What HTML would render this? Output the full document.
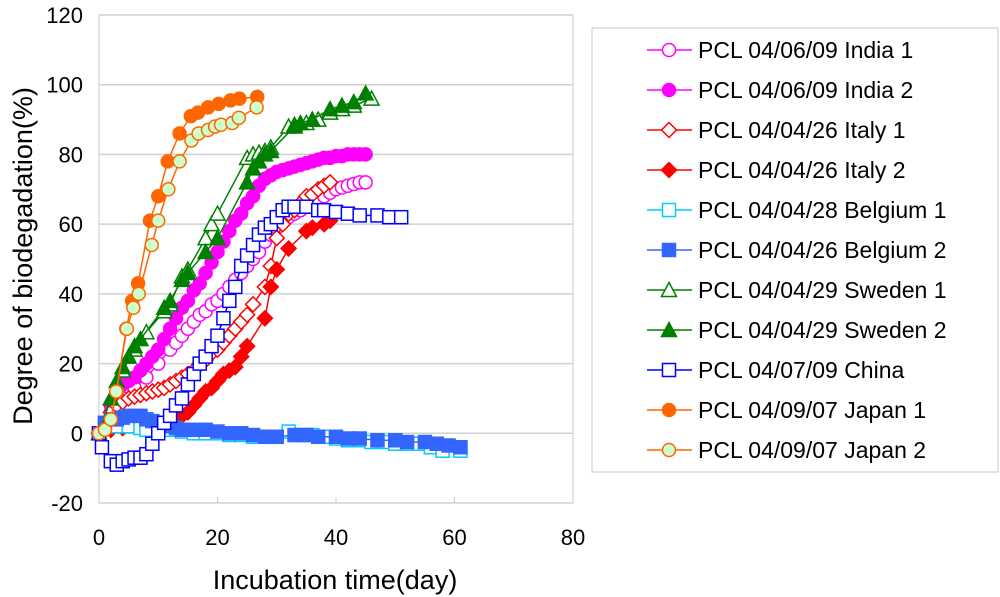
<!DOCTYPE html>
<html><head><meta charset="utf-8"><style>
body{margin:0;background:#fff;}
svg{display:block;font-family:"Liberation Sans",Arial,sans-serif;}
</style></head><body>
<svg id="chart" width="1000" height="597" viewBox="0 0 1000 597" xmlns="http://www.w3.org/2000/svg">
<g id="grid"></g>
<g id="axes"></g>
<g id="series"></g>
<g id="legend"></g>
<text x="0" y="0" transform="translate(32,256) rotate(-90)" text-anchor="middle" font-size="27">Degree of biodegadation(%)</text>
<text x="335" y="589" text-anchor="middle" font-size="27">Incubation time(day)</text>
</svg>
<script>
const xTicks=[0,20,40,60,80];
const yTicks=[-20,0,20,40,60,80,100,120];
const seriesNames=["PCL 04/06/09 India 1","PCL 04/06/09 India 2","PCL 04/04/26 Italy 1","PCL 04/04/26 Italy 2","PCL 04/04/28 Belgium 1","PCL 04/04/26 Belgium 2","PCL 04/04/29 Sweden 1","PCL 04/04/29 Sweden 2","PCL 04/07/09 China","PCL 04/09/07 Japan 1","PCL 04/09/07 Japan 2"];
const india1=[[0,0],[2,6],[4,10],[6,13],[8,16],[10,20],[12,24],[13,26],[14,28],[15,30],[16,32],[17,34],[18,35],[19,37],[20,38],[21,40],[22,42],[23,44],[24,46],[25,48],[26,50],[27,52],[28,55],[29,57],[30,59],[31,61],[32,62],[33,63],[34,64],[35,65],[36,66],[37,67],[38,68],[39,69],[40,70],[41,70.5],[42,71],[43,71.5],[44,72],[45,72]];
const india2=[[0,0],[1,3],[2,8],[3,11],[4,14],[5,15],[6,16],[7,18],[8,20],[9,22],[10,24],[11,27],[12,30],[13,33],[14,36],[15,38],[16,41],[17,43],[18,46],[19,49],[20,52],[21,55],[22,58],[23,61],[24,63],[25,66],[26,68],[27,71],[28,73],[29,74],[30,75],[31,75.5],[32,76],[33,76.5],[34,77],[35,77.5],[36,78],[37,78.5],[38,79],[39,79],[40,79.5],[41,79.5],[42,80],[43,80],[44,80],[45,80]];
const italy1=[[0,0],[2,6],[3,8],[4,9],[5,10],[6,10.5],[7,11],[8,11.5],[9,12],[10,12.5],[11,13],[12,14],[13,15],[14,16],[15,17],[16,18],[17,20],[18,21],[19,23],[20,24],[21,26],[22,28],[23,30],[24,32],[25,34],[26,37],[28,42],[29,48],[30,56],[31,60],[32,63],[33,64],[34,66],[35,68],[36,68.5],[37,70],[38,71],[39,72]];
const italy2=[[0,0],[2,1],[4,1.5],[6,2],[8,2.5],[10,3],[12,4],[14,5],[15,6],[16,8],[17,10],[18,12],[19,13],[20,15],[21,17],[22,18],[23,19],[24,22],[25,25],[28,33],[29,42],[30,47],[32,53],[35,58],[36,59],[38,60],[39,61]];
const belgium1=[[0,0],[1,2],[3,2],[5,2],[7,1.5],[8,1],[10,1],[12,1],[14,0.5],[16,0],[18,0],[20,0],[22,-0.5],[24,-0.5],[26,-1],[28,-1],[30,-1],[32,0.5],[34,-0.5],[36,-0.5],[38,-1],[40,-1.5],[42,-2],[44,-2],[46,-2.5],[48,-2.5],[50,-3],[52,-3],[54,-3],[56,-4],[58,-5],[61,-5]];
const belgium2=[[0,0],[1,3],[2,4],[3,4],[4,4.5],[5,5],[6,5],[7,5],[8,4],[9,3.5],[10,3],[11,2.5],[12,2],[13,1.5],[14,1],[16,1],[18,1],[20,0.5],[22,0],[24,0],[26,-0.5],[28,-1],[30,-1],[33,-0.5],[35,-0.5],[37,-1],[40,-1],[42,-1.5],[44,-1.5],[47,-2],[50,-2],[52,-2.5],[55,-2.5],[57,-3],[59,-3.5],[61,-4]];
const sweden1=[[0,0],[2,10],[4,18],[6,24],[8,29],[11,35],[12,37],[14,45],[15,47],[18,56],[19,60],[20,63],[25,79],[26,80],[27,80.5],[28,81],[29,82],[32,88],[33,88.5],[35,89],[37,90],[39,92],[41,93],[43,94],[46,96]];
const sweden2=[[0,0],[2,10],[3,15],[4,19],[5,22],[6,25],[7,27],[11,36],[12,38],[14,44],[15,46],[18,52],[20,56],[25,72],[26,76],[27,78],[28,80],[29,81],[33,88],[34,89],[36,90],[39,93],[41,94],[43,95],[45,97.5]];
const china=[[0,0],[0.5,-4],[2,-8],[3,-9],[4,-8],[5,-7.5],[6,-7],[7,-7],[8,-6],[9,-3],[10,0],[11,3],[12,5],[13,8],[14,10],[15,14],[16,17],[17,20],[18,22],[19,25],[20,28],[21,33],[22,38],[23,42],[24,48],[25,51],[26,54],[27,57],[28,59],[29,60],[30,62],[31,64],[32,65],[33,65],[35,65],[37,64],[38,64],[40,63.5],[42,63],[44,62.5],[47,62.5],[49,62],[51,62]];
const japan1=[[0,0],[1,1],[2,4],[3,12],[4.6,30],[5.6,38],[6.6,43],[8.6,61],[10,68],[11.6,78],[13.6,86],[15.5,91],[16.7,92],[18.4,93.5],[20.2,94.5],[22.2,95.5],[23.7,96],[26.7,96.5]];
const japan2=[[0,0],[1,1],[2,4],[2.9,12],[4.7,30],[5.8,36],[6.7,40],[8.9,54],[10,61],[11.7,70],[13.6,78],[15.6,84],[16.8,86],[18.4,87],[19.6,88],[20.6,88.5],[22.5,89],[23.6,90.5],[26.6,93.5]];
const allData=[india1,india2,italy1,italy2,belgium1,belgium2,sweden1,sweden2,china,japan1,japan2];
const styles=[
 {c:"#ff00ff",m:"circle",f:"#fff"},{c:"#ff00ff",m:"circle",f:"#ff00ff"},
 {c:"#ff0000",m:"diamond",f:"#fff"},{c:"#ff0000",m:"diamond",f:"#ff0000"},
 {c:"#00ccff",m:"square",f:"#fff"},{c:"#3366ff",m:"square",f:"#3366ff"},
 {c:"#008000",m:"triangle",f:"#fff"},{c:"#008000",m:"triangle",f:"#008000"},
 {c:"#0000ff",m:"square",f:"#fff"},{c:"#ff6600",m:"circle",f:"#ff6600"},{c:"#ff6600",m:"circle",f:"#ccffcc"}];
const NS="http://www.w3.org/2000/svg";
const X0=99,X1=573,Y0=503,Y1=15;
const sx=v=>X0+(v-0)/(80-0)*(X1-X0);
const sy=v=>Y0-(v+20)/(140)*(Y0-Y1);
function mk(tag,attrs,parent){const e=document.createElementNS(NS,tag);for(const k in attrs)e.setAttribute(k,attrs[k]);parent.appendChild(e);return e;}
const grid=document.getElementById('grid'),axes=document.getElementById('axes'),ser=document.getElementById('series'),leg=document.getElementById('legend');
mk('rect',{x:X0,y:Y1,width:X1-X0,height:Y0-Y1,fill:'#fff',stroke:'#c8c8c8','stroke-width':1},grid);
yTicks.forEach(t=>{
 const l=mk('line',{x1:X0,x2:X1,y1:sy(t),y2:sy(t),stroke:'#d0d0d0','stroke-width':1.5},grid);
 
 
 const tx=mk('text',{x:X0-16,y:sy(t)+8,'text-anchor':'end','font-size':22},axes);
 tx.textContent=t;
 
 
});
xTicks.forEach(t=>{
 mk('line',{x1:sx(t),x2:sx(t),y1:Y0,y2:Y0-6,stroke:'#c8c8c8'},axes);
 const tx=mk('text',{x:sx(t),y:Y0+42,'text-anchor':'middle','font-size':22},axes);
 tx.textContent=t;
 
 
});
function marker(p,x,y,s,r){
 let e;
 if(s.m==='circle')e=mk('circle',{cx:x,cy:y,r:r},p);
 else if(s.m==='square')e=mk('rect',{x:x-r,y:y-r,width:2*r,height:2*r},p);
 else if(s.m==='diamond')e=mk('polygon',{points:`${x},${y-r-1} ${x+r+1},${y} ${x},${y+r+1} ${x-r-1},${y}`},p);
 else e=mk('polygon',{points:`${x},${y-r-1} ${x+r+1},${y+r} ${x-r-1},${y+r}`},p);
 e.setAttribute('fill',s.f);e.setAttribute('stroke',s.c);e.setAttribute('stroke-width',1.5);
 return e;
}
allData.forEach((d,i)=>{
 const s=styles[i];
 const g=mk('g',{},ser);
 
 
 mk('polyline',{points:d.map(p=>sx(p[0])+','+sy(p[1])).join(' '),fill:'none',stroke:s.c,'stroke-width':1.5},g);
 d.forEach(p=>{const m=marker(g,sx(p[0]),sy(p[1]),s,6.5);
  
  });
});
mk('rect',{x:592,y:28,width:406,height:444,fill:'#fff',stroke:'#c8c8c8','stroke-width':1},leg);
seriesNames.forEach((n,i)=>{
 const s=styles[i],y=50+i*40;
 const g=mk('g',{},leg);
 
 
 mk('line',{x1:647,x2:692,y1:y,y2:y,stroke:s.c,'stroke-width':1.5},g);
 marker(g,669,y,s,6.5);
 const t=mk('text',{x:698,y:y+8,'font-size':23},g);
 t.textContent=n;
});
</script>
</body></html>
